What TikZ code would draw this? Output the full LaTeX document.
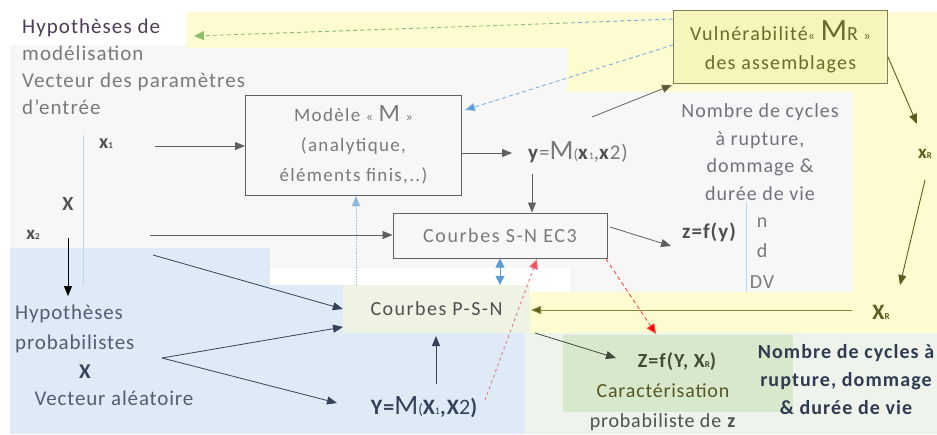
\documentclass[tikz,border=0pt]{standalone}
\usepackage{fontspec}
\setmainfont{Carlito}[LetterSpace=5]
\usetikzlibrary{arrows.meta}
\definecolor{bggray}{HTML}{F7F7F8}
\definecolor{bgblue}{HTML}{DEEAF5}
\definecolor{bgyellow}{HTML}{FCFCD0}
\definecolor{vulnfill}{HTML}{F5F5BC}
\definecolor{vulnline}{HTML}{7F7F5A}
\definecolor{psnfill}{HTML}{EEF3E4}
\definecolor{greenbox}{HTML}{D8E8CC}
\definecolor{palegreen}{HTML}{EEF4EB}
\definecolor{txtgray}{HTML}{7A7A7A}
\definecolor{darkgray}{HTML}{505050}
\definecolor{boxline}{HTML}{606060}
\definecolor{navy}{HTML}{34425A}
\definecolor{olive}{HTML}{5C5C1E}
\definecolor{olivetxt}{HTML}{6B6B2A}
\definecolor{oliveline}{HTML}{85853C}
\definecolor{dkgreen}{HTML}{3F4A36}
\definecolor{lblue}{HTML}{5B9BD5}
\definecolor{lgreen}{HTML}{8DBE6C}
\definecolor{redline}{HTML}{FF4A4A}
\definecolor{pinkline}{HTML}{E07A8A}
\definecolor{purpletxt}{HTML}{4E3D5A}
\definecolor{nbtxt}{HTML}{72727E}
\newcommand{\sm}[1]{{\fontsize{10}{10}\selectfont #1}}
\newcommand{\smb}[1]{{\fontsize{9}{9}\selectfont #1}}
\newcommand{\spaced}[1]{\addfontfeature{LetterSpace=#1}}
\begin{document}
\begin{tikzpicture}[x=1pt,y=-1pt,
  txt/.style={inner sep=0pt, align=center},
  frame/.style={draw=boxline, line width=1pt, inner sep=0pt, align=center},
  tip/.style={-{Triangle[length=10pt,width=8pt]}},
  garrow/.style={tip, draw=boxline, line width=0.8pt},
  narrow/.style={tip, draw=navy, line width=0.8pt},
  oarrow/.style={-{Triangle[length=10pt,width=8pt,fill=olive]}, draw=oliveline, line width=0.9pt},
]
\useasboundingbox (0,0) rectangle (937,434);
\fill[white] (0,0) rectangle (937,434);

% background areas
\fill[bggray] (10,45) rectangle (853,268);
\fill[bggray] (570,268) rectangle (853,292);
\fill[bgyellow] (187,12) rectangle (937,48);
\fill[bgyellow] (567,12) rectangle (937,92);
\fill[bgyellow] (853,12) rectangle (937,292);
\fill[bgyellow] (530,292) rectangle (937,333);
\fill[bgblue] (10,248) rectangle (270,434);
\fill[bgblue] (270,285) rectangle (525,434);
\fill[palegreen] (525,333) rectangle (937,434);
\fill[greenbox] (563,335) rectangle (793,412);
\draw[lblue!40, line width=1pt] (83,135) -- (83,285);
\draw[lblue!40, line width=1pt] (746,202) -- (746,292);

% boxes
\node[frame, fill=bggray, minimum width=216pt, minimum height=100pt,
  font=\fontsize{19}{30}\selectfont\spaced{7}, text=txtgray] (model) at (353.5,145)
  {Modèle {\fontsize{14}{14}\selectfont «} {\fontsize{25}{25}\selectfont M} {\fontsize{14}{14}\selectfont »}\\(analytique,\\éléments finis,..)};
\node[frame, fill=bggray, minimum width=214pt, minimum height=45pt,
  font=\fontsize{20}{22}\selectfont\spaced{8}, text=txtgray] (sn) at (500,235.5) {Courbes S-N EC3};
\node[frame, draw=vulnline, fill=vulnfill, minimum width=214pt, minimum height=73pt,
  font=\fontsize{20}{29}\selectfont\spaced{6}, text=olivetxt] (vuln) at (780.5,46.5)
  {Vulnérabilité{\fontsize{14}{14}\selectfont «} {\fontsize{31}{31}\selectfont M}R {\fontsize{14}{14}\selectfont »}\\des assemblages};
\node[txt, fill=psnfill, minimum width=187pt, minimum height=48pt,
  font=\fontsize{20}{22}\selectfont\spaced{7.5}, text=darkgray] (psn) at (436.5,309) {Courbes P-S-N};

% texts
\node[txt, anchor=north west, align=left, font=\fontsize{21}{27}\selectfont, text=txtgray] (hm) at (22,19)
  {\textcolor{purpletxt}{Hypothèses de}\\modélisation\\Vecteur des paramètres\\d'entrée};
\node[txt, font=\fontsize{20}{22}\selectfont\bfseries, text=darkgray] (x1) at (106,144) {x\smb{1}};
\node[txt, font=\fontsize{20}{22}\selectfont\bfseries, text=darkgray] (X) at (68,204) {X};
\node[txt, font=\fontsize{19}{22}\selectfont\bfseries, text=darkgray] (x2) at (33,235) {x\smb{2}};
\node[txt, anchor=north west, align=left, font=\fontsize{21}{30}\selectfont\spaced{4}, text=navy!85] (hp) at (15,305)
  {Hypothèses\\probabilistes};
\node[txt, font=\fontsize{21}{22}\selectfont\bfseries, text=navy] (hpX) at (85,372) {X};
\node[txt, font=\fontsize{21}{22}\selectfont\spaced{4}, text=navy!85] (hpv) at (114,398) {Vecteur aléatoire};
\node[txt, font=\fontsize{21}{22}\selectfont, text=txtgray] (ym) at (578,152)
  {\textcolor{darkgray}{\textbf{y}}={\fontsize{28}{28}\selectfont M}{\fontsize{15}{15}\selectfont(}\textcolor{darkgray}{\textbf{x}}\sm{1},\textcolor{darkgray}{\textbf{x}}2)};
\node[txt, font=\fontsize{20}{27.5}\selectfont, text=nbtxt] (nb) at (760,152)
  {Nombre de cycles\\à rupture,\\dommage \&\\durée de vie};
\node[txt, font=\fontsize{21}{22}\selectfont\bfseries, text=darkgray] (zf) at (709,232) {z=f(y)};
\node[txt, font=\fontsize{20}{30.5}\selectfont, text=txtgray] (ndv) at (762,253) {n\\d\\DV};
\node[txt, font=\fontsize{19}{22}\selectfont\bfseries, text=olive] (xr) at (925,154) {x\smb{R}};
\node[txt, font=\fontsize{22}{22}\selectfont\bfseries, text=olive] (XR) at (881,312) {X\smb{R}};
\node[txt, font=\fontsize{22}{22}\selectfont\bfseries, text=navy] (Ym) at (424,407)
  {Y={\fontsize{28}{28}\selectfont\mdseries M}{\fontsize{15}{15}\selectfont\mdseries(}X\sm{\mdseries 1},X{\mdseries 2})};
\node[txt, font=\fontsize{20}{22}\selectfont\bfseries, text=dkgreen!90!olive] (Zf) at (677,362) {Z=f(Y, X\smb{R})};
\node[txt, font=\fontsize{20}{30}\selectfont\spaced{4}, text=darkgray] (car) at (663,407)
  {\textcolor{olivetxt!80!black}{Caractérisation}\\probabiliste de \textbf{z}};
\node[txt, font=\fontsize{20}{28}\selectfont\bfseries\spaced{5.5}, text=navy!90!black] (nb2) at (846,380)
  {Nombre de cycles à\\rupture, dommage\\\& durée de vie};

% connector end points
\coordinate (x1s) at (155,146);
\coordinate (x2s) at (150,235);
\coordinate (x2d) at (68,238);
\coordinate (hpt) at (68,296);
\coordinate (x2b) at (153,255);
\coordinate (fork) at (162,358);
\coordinate (psnl) at (343,327);
\coordinate (yml) at (337,403);
\coordinate (ymt) at (436,384);
\coordinate (psnb) at (436,336);
\coordinate (psnt) at (356,285);
\coordinate (modb) at (356,196);
\coordinate (ymr) at (485,400);
\coordinate (snb) at (537,259);
\coordinate (snbr) at (606,259);
\coordinate (zft) at (656,334);
\coordinate (ymo) at (512,153);
\coordinate (ymb) at (532,174);
\coordinate (ymu) at (592,117);
\coordinate (vulnl) at (672,85);
\coordinate (snr) at (610,227);
\coordinate (zfl) at (671,246);
\coordinate (vulnr) at (888,57);
\coordinate (xrt) at (917,124);
\coordinate (xrb) at (925,180);
\coordinate (XRt) at (900,285);
\coordinate (XRl) at (852,310);
\coordinate (psnr) at (531,310);
\coordinate (psnbr) at (535,333);
\coordinate (Zfl) at (616,358);
\coordinate (vulnb) at (673,45);
\coordinate (modtr) at (465,110);
\coordinate (vulnt) at (673,19);
\coordinate (bend) at (567,23);
\coordinate (hmr) at (194,36);

% connectors
\draw[garrow] (x1s) -- (model.west |- x1s);
\draw[garrow] (x2s) -- (sn.west |- x2s);
\draw[tip, black, line width=0.8pt] (x2d) -- (hpt);
\draw[narrow] (x2b) -- (psn.west);
\draw[narrow] (fork) -- (psnl);
\draw[narrow] (fork) -- (yml);
\draw[narrow] (ymt) -- (psnb);
\draw[tip, draw=lblue!70, fill=lblue, line width=0.8pt, dotted] (psnt) -- (modb);
\draw[{Triangle[length=9pt,width=9pt]}-{Triangle[length=9pt,width=9pt]}, lblue, line width=0.8pt]
  (sn.south) -- (sn.south |- psn.north);
\draw[pinkline, line width=0.9pt, dash pattern=on 3pt off 3pt,
  -{Triangle[length=10pt,width=9pt,fill=redline]}] (ymr) -- (snb);
\draw[redline, line width=0.9pt, dash pattern=on 4pt off 3pt,
  -{Triangle[length=10pt,width=9pt,fill=red]}] (snbr) -- (zft);
\draw[garrow] (model.east |- ymo) -- (ymo);
\draw[garrow] (ymb) -- (ymb |- sn.north);
\draw[-{Triangle[length=10pt,width=8pt,fill=olive]}, draw=boxline, line width=0.8pt] (ymu) -- (vulnl);
\draw[garrow] (snr) -- (zfl);
\draw[oarrow, draw=olive] (vulnr) -- (xrt);
\draw[oarrow, draw=olive] (xrb) -- (XRt);
\draw[oarrow] (XRl) -- (psnr);
\draw[tip, draw=dkgreen, line width=0.8pt] (psnbr) -- (Zfl);
\draw[lblue!80, line width=0.9pt, dash pattern=on 4pt off 3pt,
  -{Triangle[length=10pt,width=8pt,fill=lblue]}] (vulnb) -- (modtr);
\draw[lblue!80, line width=0.9pt, dash pattern=on 4pt off 3pt] (vulnt) -- (bend);
\draw[lgreen, line width=0.9pt, dash pattern=on 4pt off 3pt,
  -{Triangle[length=10pt,width=9pt,fill=lgreen]}] (bend) -- (hmr);
\end{tikzpicture}
\end{document}
